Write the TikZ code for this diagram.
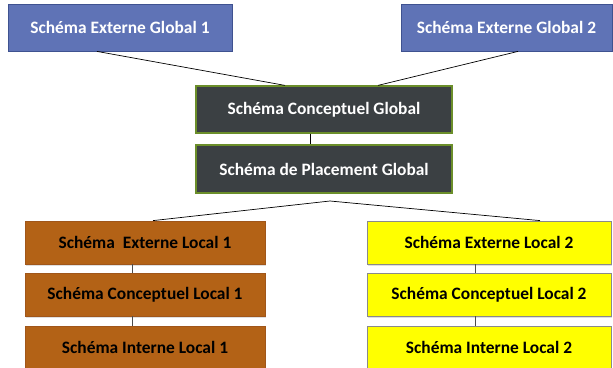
\documentclass[tikz,border=0pt]{standalone}
\usepackage{fontspec}
\setmainfont{Carlito}
\usetikzlibrary{shadows}
\definecolor{gblue}{HTML}{5F73B6}
\definecolor{gblueB}{HTML}{3F5290}
\definecolor{gdark}{HTML}{3B4043}
\definecolor{gdarkB}{HTML}{6B8E2A}
\definecolor{lbrown}{HTML}{B36216}
\definecolor{lbrownB}{HTML}{A0561A}
\definecolor{lyellow}{HTML}{FFFF00}
\definecolor{lyellowB}{HTML}{8A8A8A}
\tikzset{
  box/.style={rectangle, inner sep=0pt, font=\fontsize{17.4}{20}\selectfont\bfseries, line width=0.8pt},
  gext/.style={box, fill=gblue, draw=gblueB, text=white},
  gmid/.style={box, fill=gdark, draw=gdarkB, line width=1.2pt, text=white},
  loc1/.style={box, fill=lbrown, draw=lbrownB, text=black, drop shadow={opacity=0.25, shadow xshift=1pt, shadow yshift=-1.5pt}},
  loc2/.style={box, fill=lyellow, draw=lyellowB, text=black, drop shadow={opacity=0.25, shadow xshift=1pt, shadow yshift=-1.5pt}},
  conn/.style={draw=black, line width=0.7pt},
  vconn/.style={draw=black!70, line width=0.7pt}
}
\begin{document}
\begin{tikzpicture}[x=1pt,y=-1pt]
\useasboundingbox (0,0) rectangle (613,367);
\clip (0,0) rectangle (613,367);
\node[gext, minimum width=224pt, minimum height=47pt] (eg1) at (120,27.5) {Schéma Externe Global 1};
\node[gext, minimum width=211pt, minimum height=47pt] (eg2) at (506.5,27.5) {Schéma Externe Global 2};
\node[gmid, minimum width=256pt, minimum height=47pt] (cg) at (324,109.5) {Schéma Conceptuel Global};
\node[gmid, minimum width=256pt, minimum height=48pt] (pg) at (324,169) {Schéma de Placement Global};
\coordinate (apex) at (330,201);
\node[loc1, minimum width=240pt, minimum height=43pt] (el1) at (145,242.5) {Schéma~~Externe Local 1};
\node[loc1, minimum width=240pt, minimum height=43pt] (cl1) at (145,294.5) {Schéma Conceptuel Local 1};
\node[loc1, minimum width=240pt, minimum height=43pt] (il1) at (145,347.5) {Schéma Interne Local 1};
\node[loc2, minimum width=244pt, minimum height=43pt] (el2) at (489,242.5) {Schéma Externe Local 2};
\node[loc2, minimum width=244pt, minimum height=43pt] (cl2) at (489,294.5) {Schéma Conceptuel Local 2};
\node[loc2, minimum width=244pt, minimum height=43pt] (il2) at (489,347.5) {Schéma Interne Local 2};
\draw[conn] ([xshift=-23pt]eg1.south) -- ([xshift=-39pt]cg.north);
\draw[conn] ([xshift=11.5pt]eg2.south) -- ([xshift=54pt]cg.north);
\draw[conn] ([xshift=-14pt]cg.south) -- ([xshift=-14pt]pg.north);
\draw[conn] ([xshift=8pt]el1.north) -- (apex) -- ([xshift=51pt]el2.north);
\draw[vconn] ([xshift=-13pt]el1.south) -- ([xshift=-13pt]cl1.north);
\draw[vconn] ([xshift=-13pt]cl1.south) -- ([xshift=-13pt]il1.north);
\draw[vconn] ([xshift=-14pt]el2.south) -- ([xshift=-14pt]cl2.north);
\draw[vconn] ([xshift=-14pt]cl2.south) -- ([xshift=-14pt]il2.north);
\end{tikzpicture}
\end{document}
